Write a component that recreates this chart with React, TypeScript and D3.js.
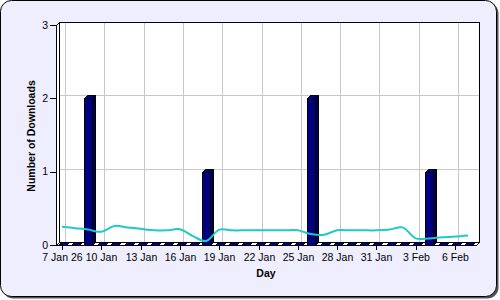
import React from "react";
import * as d3 from "d3";

const days: string[] = [
  "2026-01-07","2026-01-08","2026-01-09","2026-01-10","2026-01-11","2026-01-12","2026-01-13","2026-01-14",
  "2026-01-15","2026-01-16","2026-01-17","2026-01-18","2026-01-19","2026-01-20","2026-01-21","2026-01-22",
  "2026-01-23","2026-01-24","2026-01-25","2026-01-26","2026-01-27","2026-01-28","2026-01-29","2026-01-30",
  "2026-01-31","2026-02-01","2026-02-02","2026-02-03","2026-02-04","2026-02-05","2026-02-06","2026-02-07",
];
const downloads: number[] = [
  0,0,2,0,0,0,0,0,
  0,0,0,1,0,0,0,0,
  0,0,0,2,0,0,0,0,
  0,0,0,0,1,0,0,0,
];
const trend: number[] = [
  0.25,0.23,0.21,0.18,0.26,0.24,0.22,0.2,
  0.2,0.215,0.12,0.055,0.21,0.2,0.2,0.2,
  0.2,0.2,0.2,0.15,0.14,0.2,0.2,0.2,
  0.2,0.21,0.24,0.09,0.09,0.105,0.115,0.13,
];
const xTickDays: string[] = [
  "2026-01-07","2026-01-10","2026-01-13","2026-01-16","2026-01-19","2026-01-22",
  "2026-01-25","2026-01-28","2026-01-31","2026-02-03","2026-02-06",
];
const yTicks: number[] = [0, 1, 2, 3];
const xDomain: string[] = ["2026-01-06T13:00", "2026-02-07T14:24"];

const parseDay = d3.utcParse("%Y-%m-%d");
const parseDT = d3.utcParse("%Y-%m-%dT%H:%M");

export default function App() {
  const W = 500, H = 300;
  const depth = 3;
  const left = 56, right = 476, top = 25, bottom = 245;
  const x = d3.scaleUtc()
    .domain([parseDT(xDomain[0]) as Date, parseDT(xDomain[1]) as Date])
    .range([left, right]);
  const y = d3.scaleLinear().domain([0, 3]).range([bottom, top]);
  const font = "'Liberation Sans', Arial, sans-serif";
  const fmtFirst = d3.utcFormat("%-d %b %y");
  const fmt = d3.utcFormat("%-d %b");
  const bw = 8;

  const lineGen = d3.line<number>()
    .x((_, i) => x(parseDay(days[i]) as Date))
    .y((v) => y(v))
    .curve(d3.curveCatmullRom.alpha(0.5));

  return (
    <svg width={W} height={H} style={{ position: "absolute", left: 0, top: 0 }}
      xmlns="http://www.w3.org/2000/svg">
      {/* panel */}
      <rect x={2.5} y={2.5} width={496} height={296} rx={11} fill="#555" />
      <rect x={0.5} y={0.5} width={496} height={296} rx={11} fill="#EEEEFF" stroke="#000" />

      {/* back wall */}
      <rect x={left + depth + 0.5} y={top - depth + 0.5} width={right - left} height={bottom - top}
        fill="#fff" stroke="#000" />
      {/* left wall */}
      <polygon points={`${left + 0.5},${top + 0.5} ${left + depth + 0.5},${top - depth + 0.5} ${left + depth + 0.5},${bottom - depth + 0.5} ${left + 0.5},${bottom + 0.5}`}
        fill="#fff" stroke="#000" />

      {/* gridlines */}
      {yTicks.filter((v) => v > 0 && v < 3).map((v) => (
        <line key={"gy" + v} x1={left + depth + 1} x2={right + depth}
          y1={Math.round(y(v)) - depth + 0.5} y2={Math.round(y(v)) - depth + 0.5} stroke="#C8C8C8" />
      ))}
      {xTickDays.map((d) => {
        const xx = Math.round(x(parseDay(d) as Date)) + depth + 0.5;
        return <line key={"gx" + d} x1={xx} x2={xx} y1={top - depth + 1} y2={bottom - depth} stroke="#C8C8C8" />;
      })}

      {/* floor */}
      <polygon points={`${left + 0.5},${bottom + 0.5} ${right + 0.5},${bottom + 0.5} ${right + depth + 0.5},${bottom - depth + 0.5} ${left + depth + 0.5},${bottom - depth + 0.5}`}
        fill="#fff" stroke="#000" />

      {/* bars */}
      {days.map((d, i) => {
        const cx = Math.round(x(parseDay(d) as Date));
        const x0 = cx - bw / 2 + 0.5, x1 = cx + bw / 2 + 0.5;
        const yt = Math.round(y(downloads[i])) + 0.5;
        const yb = bottom + 0.5;
        return (
          <g key={"b" + d} stroke="#000" strokeWidth={1}>
            {downloads[i] > 0 && (
              <polygon points={`${x1},${yt} ${x1 + depth},${yt - depth} ${x1 + depth},${yb - depth} ${x1},${yb}`} fill="#000050" />
            )}
            <polygon points={`${x0},${yt} ${x0 + depth},${yt - depth} ${x1 + depth},${yt - depth} ${x1},${yt}`} fill="#000080" />
            {downloads[i] > 0 && <rect x={x0} y={yt} width={bw} height={yb - yt} fill="#000080" />}
          </g>
        );
      })}

      {/* trend line */}
      <path d={lineGen(trend) || ""} fill="none" stroke="#22C8C8" strokeWidth={2} />

      {/* axes */}
      <line x1={left + 0.5} x2={left + 0.5} y1={top} y2={bottom + 1} stroke="#000" />
      <line x1={left - 3} x2={right + 1} y1={bottom + 0.5} y2={bottom + 0.5} stroke="#000" />
      {yTicks.map((v) => (
        <g key={"yt" + v}>
          <line x1={left - 6} x2={left} y1={Math.round(y(v)) + 0.5} y2={Math.round(y(v)) + 0.5} stroke="#000" />
          <text x={left - 8} y={y(v)} dy="0.35em" textAnchor="end" fontFamily={font} fontSize={10.5} fill="#000">{v}</text>
        </g>
      ))}
      {xTickDays.map((d, i) => {
        const xx = Math.round(x(parseDay(d) as Date)) + 0.5;
        return (
          <g key={"xt" + d}>
            <line x1={xx} x2={xx} y1={bottom} y2={bottom + 5} stroke="#000" />
            <text x={xx} y={261} textAnchor="middle" fontFamily={font} fontSize={10.5} fill="#000">
              {i === 0 ? fmtFirst(parseDay(d) as Date) : fmt(parseDay(d) as Date)}
            </text>
          </g>
        );
      })}

      {/* titles */}
      <text x={(left + right) / 2} y={277} textAnchor="middle" fontFamily={font} fontSize={10.5} fontWeight="bold">Day</text>
      <text transform={`translate(35, ${(top + bottom) / 2 + 1}) rotate(-90)`} textAnchor="middle"
        fontFamily={font} fontSize={10.5} fontWeight="bold">Number of Downloads</text>
    </svg>
  );
}
